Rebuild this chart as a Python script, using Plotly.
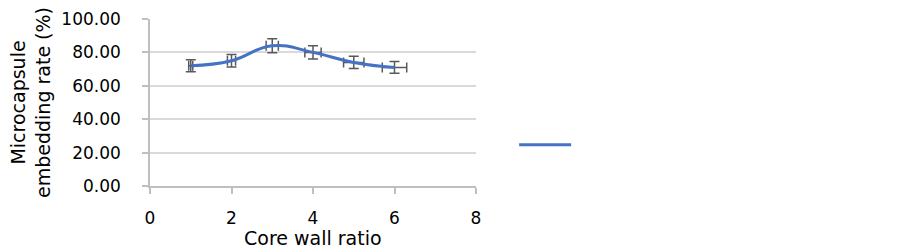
import plotly.graph_objects as go

core_wall_ratio = [1, 2, 3, 4, 5, 6]
embedding_rate = [72.0, 75.0, 84.0, 80.0, 74.0, 71.0]
y_error = [3.6, 3.75, 4.2, 4.0, 3.7, 3.55]
x_error = [0.05, 0.10, 0.15, 0.20, 0.25, 0.30]
y_ticks = [0, 20, 40, 60, 80, 100]
y_tick_labels = ["0.00", "20.00", "40.00", "60.00", "80.00", "100.00"]
x_ticks = [0, 2, 4, 6, 8]
x_title = "Core wall ratio"
y_title = "Microcapsule<br>embedding rate (%)"

font_family = "DejaVu Sans, Liberation Sans, sans-serif"
err_color = "#595959"

fig = go.Figure()
fig.add_trace(go.Scatter(
    x=core_wall_ratio, y=embedding_rate, mode="lines", name="",
    line=dict(color="#4472C4", width=3, shape="spline", smoothing=1.3),
    error_y=dict(type="data", array=y_error, visible=True, color=err_color, thickness=1.5, width=5),
    error_x=dict(type="data", array=x_error, visible=True, color=err_color, thickness=1.5, width=5),
    showlegend=True,
))

fig.update_layout(
    width=903, height=252,
    margin=dict(l=150, r=427, t=19, b=66, autoexpand=False),
    paper_bgcolor="white", plot_bgcolor="white",
    font=dict(family=font_family, size=17, color="#000000"),
    showlegend=True,
    legend=dict(x=1.117, y=0.245, xanchor="left", yanchor="middle",
                itemwidth=52, font=dict(size=14), bgcolor="rgba(0,0,0,0)"),
    xaxis=dict(
        range=[0, 8], tickvals=x_ticks, showgrid=False, zeroline=False,
        showline=True, linecolor="#bfbfbf", linewidth=1.5,
        ticks="outside", ticklen=6, tickcolor="#bfbfbf", tickwidth=1.5,
        ticklabelstandoff=10, automargin=False,
    ),
    yaxis=dict(
        range=[0, 100], tickvals=y_ticks, ticktext=y_tick_labels,
        showgrid=True, gridcolor="#d9d9d9", gridwidth=1.5, zeroline=False,
        showline=True, linecolor="#bfbfbf", linewidth=1.5,
        ticks="outside", ticklen=6, tickcolor="#bfbfbf", tickwidth=1.5,
        ticklabelstandoff=18, automargin=False,
        title=dict(text=y_title, font=dict(size=19), standoff=6),
    ),
)
fig.add_annotation(
    text=x_title, xref="paper", yref="paper", x=0.5, y=0,
    xanchor="center", yanchor="middle", yshift=-52, showarrow=False,
    font=dict(size=19),
)

# remove the default page margin so the 903x252 figure fills the window exactly
fig.write_html(
    "out.html",
    config={"displayModeBar": False},
    post_script="document.body.style.margin='0px';document.body.style.overflow='hidden';",
)
